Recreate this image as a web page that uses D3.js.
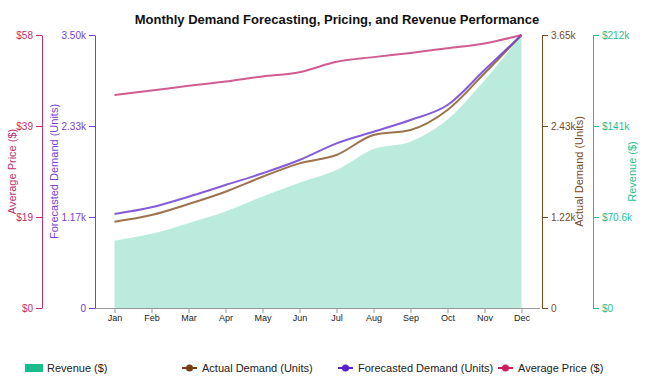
<!DOCTYPE html>
<html><head><meta charset="utf-8">
<script src="https://cdn.jsdelivr.net/npm/d3@7"></script>
<style>body{margin:0;background:#fff;font-family:"Liberation Sans",Arial,sans-serif;}</style>
</head><body>
<svg id="chart" width="650" height="392"></svg>
<script>
const months = ["Jan","Feb","Mar","Apr","May","Jun","Jul","Aug","Sep","Oct","Nov","Dec"];
const revenue = [52200, 57500, 65800, 74800, 86500, 97200, 107000, 123300, 129000, 146100, 176400, 211700];
const actualDemand = [1154, 1243, 1390, 1555, 1755, 1934, 2046, 2313, 2380, 2647, 3138, 3650];
const forecastDemand = [1205, 1291, 1427, 1577, 1727, 1897, 2111, 2260, 2410, 2602, 3051, 3500];
const avgPrice = [45.25, 46.2, 47.2, 48.1, 49.2, 50.1, 52.3, 53.3, 54.2, 55.2, 56.2, 58.0];

const revColor = "#1abc8c";
const svg = d3.select("#chart");
const plotTop = 35, plotBottom = 308, plotLeft = 96, plotRight = 540;

const x = d3.scalePoint().domain(months).range([plotLeft, plotRight]).padding(0.5);
const yPrice = d3.scaleLinear().domain([0, d3.max(avgPrice)]).range([plotBottom, plotTop]);
const yFc = d3.scaleLinear().domain([0, d3.max(forecastDemand)]).range([plotBottom, plotTop]);
const yAct = d3.scaleLinear().domain([0, d3.max(actualDemand)]).range([plotBottom, plotTop]);
const yRev = d3.scaleLinear().domain([0, d3.max(revenue)]).range([plotBottom, plotTop]);

const thirds = s => { const m = s.domain()[1]; return [0, m/3, 2*m/3, m]; };

// revenue area
svg.append("path")
  .datum(revenue)
  .attr("fill", revColor).attr("fill-opacity", 0.3)
  .attr("d", d3.area().x((d,i)=>x(months[i])).y0(plotBottom).y1(d=>yRev(d)).curve(d3.curveMonotoneX));

function line(data, y, c){
  svg.append("path").datum(data)
    .attr("fill","none").attr("stroke", c).attr("stroke-width", 2).attr("stroke-opacity", 0.85)
    .attr("d", d3.line().x((d,i)=>x(months[i])).y(d=>y(d)).curve(d3.curveMonotoneX));
}
line(actualDemand, yAct, "#8b5a2b");
line(forecastDemand, yFc, "#7040d0");
line(avgPrice, yPrice, "#c8407c");

// x axis
const xa = svg.append("g").attr("transform",`translate(0,${plotBottom})`)
  .call(d3.axisBottom(x).tickSizeOuter(0).tickSize(5).tickPadding(2));
xa.select(".domain").attr("stroke","#999").attr("d",`M${plotLeft-4},0.5H${plotRight}`);
xa.selectAll(".tick line").attr("stroke","#999");
xa.selectAll("text").attr("font-size", 9).attr("fill","#222");

function yAxis(scale, xpos, gen, fmt, color, title, tx){
  const g = svg.append("g").attr("transform",`translate(${xpos},0)`)
    .call(gen(scale).tickValues(thirds(scale)).tickFormat(fmt).tickSizeOuter(0));
  g.select(".domain").attr("stroke", color);
  g.selectAll(".tick line").attr("stroke", color);
  g.selectAll("text").attr("fill", color).attr("font-size", 10);
  svg.append("text").attr("transform",`translate(${tx},${(plotTop+plotBottom)/2}) rotate(-90)`)
    .attr("text-anchor","middle").attr("fill", color).attr("font-size", 11).text(title);
}
const kfmt = v => v === 0 ? "0" : d3.format(".3s")(v);
yAxis(yPrice, 42, d3.axisLeft, v => "$" + Math.round(v), "#c2306e", "Average Price ($)", 16);
yAxis(yFc, 95, d3.axisLeft, kfmt, "#7a3fd6", "Forecasted Demand (Units)", 58);
yAxis(yAct, 542, d3.axisRight, kfmt, "#7a4a22", "Actual Demand (Units)", 583);
yAxis(yRev, 593, d3.axisRight, v => "$" + (v===0 ? "0" : d3.format(".3s")(v)), "#1fbf8f", "Revenue ($)", 636);

// title
svg.append("text").attr("x", 337).attr("y", 24).attr("text-anchor","middle")
  .attr("font-size", 13).attr("font-weight","bold").attr("fill","#111")
  .text("Monthly Demand Forecasting, Pricing, and Revenue Performance");

// legend
const lg = svg.append("g").attr("font-size", 11).attr("fill","#222");
lg.append("rect").attr("x",25).attr("y",364).attr("width",18).attr("height",8).attr("fill", revColor);
lg.append("text").attr("x",47).attr("y",372).text("Revenue ($)");
const items = [
  {x:182, c:"#7a3d12", t:"Actual Demand (Units)"},
  {x:338, c:"#5a1fd0", t:"Forecasted Demand (Units)"},
  {x:498, c:"#cc1d60", t:"Average Price ($)"}
];
items.forEach(it => {
  lg.append("line").attr("x1",it.x).attr("x2",it.x+15).attr("y1",368).attr("y2",368).attr("stroke",it.c).attr("stroke-width",2);
  lg.append("circle").attr("cx",it.x+7.5).attr("cy",368).attr("r",3.5).attr("fill",it.c);
  lg.append("text").attr("x",it.x+20).attr("y",372).text(it.t);
});
</script>
</body></html>
